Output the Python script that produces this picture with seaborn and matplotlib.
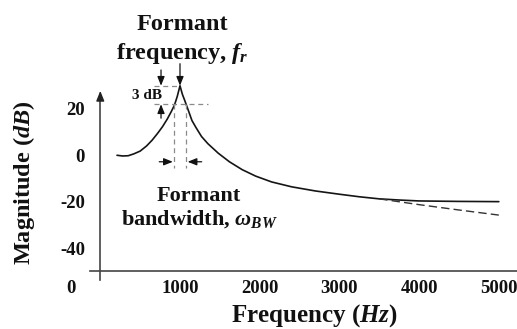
import numpy as np
import pandas as pd
import matplotlib
matplotlib.use("Agg")
import matplotlib.pyplot as plt
import matplotlib.transforms as mtransforms
import seaborn as sns

# ---- data ----
freq = [210, 280, 350, 420, 500, 580, 650, 720, 780, 840, 890, 930, 965, 1000,
        1030, 1060, 1100, 1150, 1200, 1270, 1350, 1480, 1620, 1780, 1950, 2150,
        2400, 2700, 3000, 3250, 3500, 3750, 4000, 4500, 5000]
magnitude = [0.0, -0.3, -0.2, 0.6, 1.8, 4.0, 6.5, 9.5, 12.3, 15.6, 18.8, 21.6, 25.3, 30.0,
             26.3, 23.6, 19.8, 15.0, 12.0, 8.1, 5.0, 0.9, -2.8, -6.2, -9.0, -11.5,
             -13.6, -15.4, -16.8, -17.9, -18.8, -19.3, -19.7, -19.9, -20.0]
asym_freq = [3500, 4000, 4500, 5000]
asym_mag = [-18.8, -21.3, -23.6, -25.8]
x_ticks = [0, 1000, 2000, 3000, 4000, 5000]
x_tick_labels = ["0", "1000", "2000", "3000", "4000", "5000"]
y_ticks = [-40, -20, 0, 20]
y_tick_labels = ["-40", "-20", "0", "20"]
peak_freq = 1000
peak_mag = 30
half_mag = 22
bw_low, bw_high = 925, 1071

sns.set_theme(style="white")
plt.rcParams["font.family"] = ["Liberation Serif", "DejaVu Serif"]
plt.rcParams["font.weight"] = "bold"
plt.rcParams["mathtext.fontset"] = "custom"
plt.rcParams["mathtext.rm"] = "Liberation Serif:bold"
plt.rcParams["mathtext.it"] = "Liberation Serif:italic:bold"
plt.rcParams["mathtext.bf"] = "Liberation Serif:bold"

W, H = 517, 329
fig = plt.figure(figsize=(W / 100, H / 100), dpi=100)
fig.patch.set_facecolor("white")
ax = fig.add_axes([90 / W, 1 - 280 / H, 1 - 90 / W, (280 - 60) / H])
ax.set_facecolor("white")

curve = pd.DataFrame({"f": freq, "m": magnitude})
asym = pd.DataFrame({"f": asym_freq, "m": asym_mag})
sns.lineplot(data=curve, x="f", y="m", ax=ax, color="#151515", lw=1.2, sort=False)
sns.lineplot(data=asym, x="f", y="m", ax=ax, color="#333333", lw=1.0,
             linestyle=(0, (6, 3)), sort=False)

ax.set_xlim(-129, 5228)
ax.set_ylim(-53.8, 41.1)

# axes crossing lines
for s in ["top", "right"]:
    ax.spines[s].set_visible(False)
ax.spines["left"].set_position(("data", 0))
ax.spines["bottom"].set_position(("data", -50))
ax.spines["left"].set_bounds(-53.8, 26)
ax.spines["bottom"].set_bounds(-129, 5228)
for s in ["left", "bottom"]:
    ax.spines[s].set_color("#444444")
    ax.spines[s].set_linewidth(1.2)
ax.annotate("", xy=(0, 27.8), xytext=(0, 24),
            arrowprops=dict(arrowstyle="-|>,head_length=0.5,head_width=0.2",
                            color="#222222", lw=1.0, shrinkA=0, shrinkB=0))

ax.set_xticks(x_ticks)
ax.set_xticklabels(x_tick_labels)
ax.set_yticks(y_ticks)
ax.set_yticklabels(y_tick_labels)
ax.tick_params(axis="y", direction="in", length=8, width=1.0, color="#444444",
               pad=11, labelsize=13.5)
ax.tick_params(axis="x", direction="in", length=6, width=1.0, color="#444444",
               pad=6, labelsize=13.5)
for lab in ax.get_xticklabels() + ax.get_yticklabels():
    lab.set_fontweight("bold")
    lab.set_color("#111111")
# shift the "0" x label to the y-label column
zero_lab = ax.get_xticklabels()[0]
zero_lab.set_transform(zero_lab.get_transform() +
                       mtransforms.ScaledTranslation(-29 / 100, 0, fig.dpi_scale_trans))
ax.xaxis.get_major_ticks()[0].tick1line.set_visible(False)
ax.set_xlabel("")
ax.set_ylabel("")

# ---- annotations ----
dash_kw = dict(color="#8a8a8a", lw=0.9, linestyle=(0, (4, 3)))
ax.plot([674, peak_freq], [peak_mag, peak_mag], **dash_kw)
ax.plot([674, 1355], [half_mag, half_mag], **dash_kw)
ax.plot([bw_low, bw_low], [half_mag, -5.6], **dash_kw)
ax.plot([bw_high, bw_high], [half_mag, -5.6], **dash_kw)

arr = dict(arrowstyle="-|>,head_length=0.45,head_width=0.18", color="#111111",
           lw=0.9, shrinkA=0, shrinkB=0)
ax.annotate("", xy=(bw_low - 15, -2.8), xytext=(740, -2.8), arrowprops=arr)
ax.annotate("", xy=(bw_high + 25, -2.8), xytext=(1272, -2.8), arrowprops=arr)
ax.annotate("", xy=(762, peak_mag), xytext=(762, 36.8), arrowprops=arr, annotation_clip=False)
ax.annotate("", xy=(762, half_mag), xytext=(762, 16.0), arrowprops=arr)
ax.annotate("", xy=(peak_freq, peak_mag), xytext=(peak_freq, 39.5), arrowprops=arr,
            annotation_clip=False)

ax.text(582, 25.7, "3 dB", ha="center", va="center", fontsize=11,
        fontweight="bold", color="#111111")
ax.text(1231, -17.6, "Formant", ha="center", va="center", fontsize=16,
        fontweight="bold", color="#111111")
ax.text(1250, -27.6, r"bandwidth, $\omega_{BW}$", ha="center", va="center",
        fontsize=16, fontweight="bold", color="#111111")

fig.text(182 / W, 1 - 25 / H, "Formant", ha="center", va="center", fontsize=17.5,
         fontweight="bold", color="#111111")
fig.text(182 / W, 1 - 53 / H, r"frequency, $f_r$", ha="center", va="center",
         fontsize=17.5, fontweight="bold", color="#111111")
fig.text(24 / W, 1 - 183 / H, r"Magnitude ($dB$)", ha="center", va="center",
         rotation=90, fontsize=17.5, fontweight="bold", color="#111111")
fig.text(314 / W, 1 - 316 / H, r"Frequency ($Hz$)", ha="center", va="center",
         fontsize=18, fontweight="bold", color="#111111")

fig.savefig("out.png", dpi=100, facecolor="white")
